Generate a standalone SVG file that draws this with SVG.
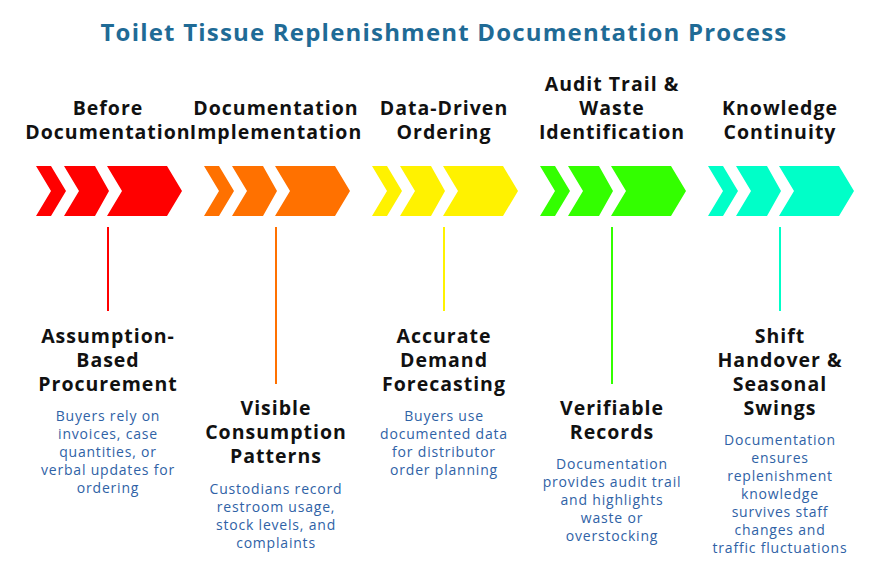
<svg xmlns="http://www.w3.org/2000/svg" width="879" height="568" viewBox="0 0 879 568">
<style>
.t{font-family:"Open Sans","Liberation Sans",sans-serif;font-weight:700;font-size:24px;letter-spacing:1.2px;fill:#1f6b96;text-anchor:middle}
.h{font-family:"Open Sans","Liberation Sans",sans-serif;font-weight:700;font-size:19.5px;letter-spacing:1px;fill:#111;text-anchor:middle}
.b{font-family:"Open Sans","Liberation Sans",sans-serif;font-size:14px;letter-spacing:0.8px;fill:#2f62a6;text-anchor:middle}
</style>
<defs>
<g id="chev">
<polygon points="0,0 15,0 30,25 15,50 0,50 15,25"/>
<polygon points="28,0 59,0 73,25 59,50 28,50 43,25"/>
<polygon points="71,0 131,0 146,25 131,50 71,50 86,25"/>
</g>
</defs>
<rect width="879" height="568" fill="#fff"/>
<text class="t" x="444" y="41">Toilet Tissue Replenishment Documentation Process</text>
<g id="connectors" stroke-width="2">
<line x1="108" y1="227" x2="108" y2="311" stroke="#ff0000"/>
<line x1="276" y1="227" x2="276" y2="384" stroke="#ff7100"/>
<line x1="444" y1="227" x2="444" y2="311" stroke="#fff200"/>
<line x1="612" y1="227" x2="612" y2="384" stroke="#33ff00"/>
<line x1="780" y1="227" x2="780" y2="311" stroke="#00ffc8"/>
</g>
<g id="n1">
<use href="#chev" x="36" y="166" fill="#ff0000"/>
<text class="h" x="108" y="115">Before</text><text class="h" x="108" y="139">Documentation</text>
<text class="h" x="108" y="343">Assumption-</text><text class="h" x="108" y="367">Based</text><text class="h" x="108" y="391">Procurement</text>
<text class="b" x="108" y="421">Buyers rely on</text><text class="b" x="108" y="439">invoices, case</text><text class="b" x="108" y="457">quantities, or</text><text class="b" x="108" y="475">verbal updates for</text><text class="b" x="108" y="493">ordering</text>
</g>
<g id="n2">
<use href="#chev" x="204" y="166" fill="#ff7100"/>
<text class="h" x="276" y="115">Documentation</text><text class="h" x="276" y="139">Implementation</text>
<text class="h" x="276" y="415">Visible</text><text class="h" x="276" y="439">Consumption</text><text class="h" x="276" y="463">Patterns</text>
<text class="b" x="276" y="494">Custodians record</text><text class="b" x="276" y="512">restroom usage,</text><text class="b" x="276" y="530">stock levels, and</text><text class="b" x="276" y="548">complaints</text>
</g>
<g id="n3">
<use href="#chev" x="372" y="166" fill="#fff200"/>
<text class="h" x="444" y="115">Data-Driven</text><text class="h" x="444" y="139">Ordering</text>
<text class="h" x="444" y="343">Accurate</text><text class="h" x="444" y="367">Demand</text><text class="h" x="444" y="391">Forecasting</text>
<text class="b" x="444" y="421">Buyers use</text><text class="b" x="444" y="439">documented data</text><text class="b" x="444" y="457">for distributor</text><text class="b" x="444" y="475">order planning</text>
</g>
<g id="n4">
<use href="#chev" x="540" y="166" fill="#33ff00"/>
<text class="h" x="612" y="91">Audit Trail &amp;</text><text class="h" x="612" y="115">Waste</text><text class="h" x="612" y="139">Identification</text>
<text class="h" x="612" y="415">Verifiable</text><text class="h" x="612" y="439">Records</text>
<text class="b" x="612" y="469">Documentation</text><text class="b" x="612" y="487">provides audit trail</text><text class="b" x="612" y="505">and highlights</text><text class="b" x="612" y="523">waste or</text><text class="b" x="612" y="541">overstocking</text>
</g>
<g id="n5">
<use href="#chev" x="708" y="166" fill="#00ffc8"/>
<text class="h" x="780" y="115">Knowledge</text><text class="h" x="780" y="139">Continuity</text>
<text class="h" x="780" y="343">Shift</text><text class="h" x="780" y="367">Handover &amp;</text><text class="h" x="780" y="391">Seasonal</text><text class="h" x="780" y="415">Swings</text>
<text class="b" x="780" y="445">Documentation</text><text class="b" x="780" y="463">ensures</text><text class="b" x="780" y="481">replenishment</text><text class="b" x="780" y="499">knowledge</text><text class="b" x="780" y="517">survives staff</text><text class="b" x="780" y="535">changes and</text><text class="b" x="780" y="553">traffic fluctuations</text>
</g>
</svg>
